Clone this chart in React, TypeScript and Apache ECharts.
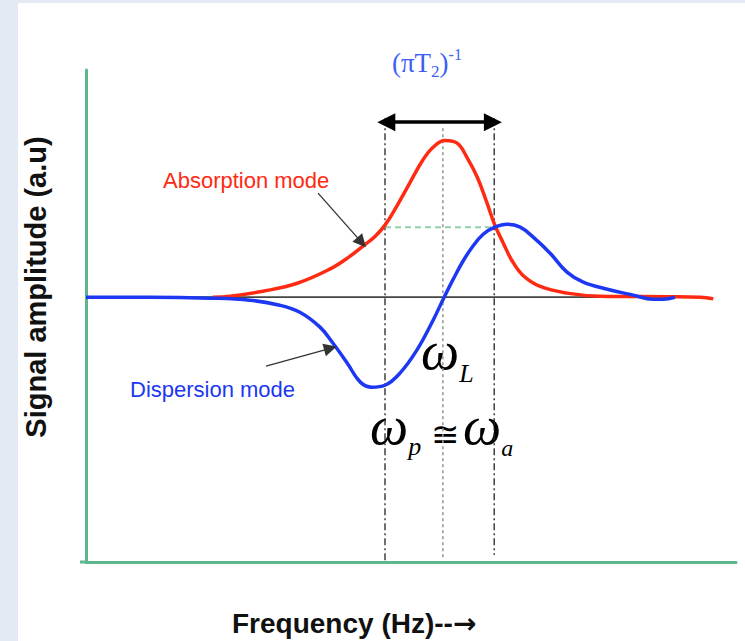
import { useEffect, useRef } from "react";
import * as echarts from "echarts";

// Frequency axis in arbitrary units (0..100), amplitude normalised to absorption peak = 1
const absorptionFreq = [19.5, 22.2, 27.2, 32.5, 37.5, 40.2, 43.2, 44.5, 46.0, 47.8, 49.8, 51.8, 53.4, 55.2, 57.1, 58.6, 60.2, 61.7, 62.9, 64.2, 65.5, 67.2, 69.8, 74.0, 79.1, 89.4, 94.5, 96.5];
const absorptionAmp = [0, 0.006, 0.038, 0.089, 0.179, 0.249, 0.345, 0.389, 0.460, 0.580, 0.728, 0.874, 0.957, 1.0, 0.983, 0.893, 0.766, 0.6, 0.460, 0.345, 0.236, 0.140, 0.070, 0.026, 0.006, 0.003, 0, -0.01];

const dispersionFreq = [0, 9.8, 19.1, 25.2, 29.8, 32.9, 36.0, 38.0, 40.2, 42.2, 44.0, 46.0, 48.3, 50.9, 53.4, 55.1, 56.5, 57.9, 59.4, 61.1, 62.9, 64.8, 66.8, 68.8, 71.4, 74.0, 76.5, 80.2, 84.2, 87.2, 88.8, 90.6];
const dispersionAmp = [0, 0, -0.006, -0.019, -0.051, -0.096, -0.191, -0.294, -0.421, -0.542, -0.574, -0.562, -0.485, -0.338, -0.147, 0, 0.115, 0.223, 0.319, 0.402, 0.447, 0.466, 0.447, 0.383, 0.281, 0.16, 0.096, 0.051, 0.013, -0.013, -0.013, 0];

const markerNames = ["omega_p", "omega_L", "omega_a"];
const markerFreq = [46.0, 54.9, 62.8];
const markerTop = [1.142, 1.078, 1.142];
const markerBottom = [-1.69, -1.666, -1.646];
const halfMaxAmp = 0.447;
const widthArrowAmp = 1.117;
const baselineEnd = 94;

const absorptionLabel = "Absorption mode";
const dispersionLabel = "Dispersion mode";
const xTitleText = "Frequency (Hz)--";
const xTitleArrow = "\u2192";
const yTitle = "Signal amplitude (a.u)";

const GREEN = "#5cb88c";
const RED = "#ff2a12";
const BLUE = "#1c38f2";
const WIDTH_BLUE = "#3d5ef5";

const SERIF = '"Liberation Serif", "DejaVu Serif", serif';

function pairs(xs: number[], ys: number[]) {
  return xs.map((x, i) => [x, ys[i]]);
}

export default function App() {
  const ref = useRef<HTMLDivElement>(null);

  useEffect(() => {
    if (!ref.current) return;
    const chart = echarts.init(ref.current, null, { renderer: "svg" });

    const verticalSeries = markerFreq.map((f, i) => ({
      type: "line",
      name: markerNames[i],
      data: [
        [f, markerTop[i]],
        [f, markerBottom[i]],
      ],
      symbol: "none",
      silent: true,
      z: 2,
      lineStyle:
        i === 1
          ? { color: "#9a9a9a", width: 1.6, type: [3, 3] }
          : { color: "#222", width: 1.3, type: [7, 3, 2, 3] },
    }));

    const omegaStyle = { fontFamily: SERIF, fontStyle: "italic", fontSize: 54, fill: "#000", verticalAlign: "middle" };

    const option: any = {
      animation: false,
      backgroundColor: "#ffffff",
      grid: { left: 86, top: 70, width: 650, height: 492, containLabel: false },
      xAxis: {
        type: "value",
        min: 0,
        max: 100,
        axisLine: { show: true, onZero: false, lineStyle: { color: GREEN, width: 3 } },
        axisTick: { show: false },
        axisLabel: { show: false },
        splitLine: { show: false },
      },
      yAxis: {
        type: "value",
        min: -1.69,
        max: 1.45,
        axisLine: { show: true, onZero: false, lineStyle: { color: GREEN, width: 3 } },
        axisTick: { show: false },
        axisLabel: { show: false },
        splitLine: { show: false },
      },
      series: [
        {
          type: "line",
          name: "baseline",
          data: [
            [0, 0],
            [baselineEnd, 0],
          ],
          symbol: "none",
          silent: true,
          z: 1,
          lineStyle: { color: "#444", width: 1.7 },
        },
        ...verticalSeries,
        {
          type: "line",
          name: "half maximum",
          data: [
            [markerFreq[0], halfMaxAmp],
            [markerFreq[2], halfMaxAmp],
          ],
          symbol: "none",
          silent: true,
          z: 2,
          lineStyle: { color: "#8fd0aa", width: 2, type: [6, 4] },
        },
        {
          type: "line",
          name: "Absorption",
          data: pairs(absorptionFreq, absorptionAmp),
          smooth: 0.4,
          symbol: "none",
          z: 3,
          lineStyle: { color: RED, width: 3.5 },
        },
        {
          type: "line",
          name: "Dispersion",
          data: pairs(dispersionFreq, dispersionAmp),
          smooth: 0.4,
          symbol: "none",
          z: 4,
          lineStyle: { color: BLUE, width: 3.5 },
        },
        {
          type: "line",
          name: "width arrow",
          data: [],
          silent: true,
          z: 5,
          markLine: {
            silent: true,
            symbol: ["triangle", "triangle"],
            symbolSize: 18,
            label: { show: false },
            lineStyle: { color: "#000", width: 3.5, type: "solid" },
            data: [
              [
                { coord: [markerFreq[0] + 0.2, widthArrowAmp] },
                { coord: [markerFreq[2] - 0.2, widthArrowAmp] },
              ],
            ],
          },
        },
        {
          type: "line",
          name: "label arrows",
          data: [],
          silent: true,
          z: 5,
          markLine: {
            silent: true,
            symbol: ["none", "triangle"],
            symbolSize: 13,
            label: { show: false },
            lineStyle: { color: "#333", width: 1.3, type: "solid" },
            data: [
              [{ coord: [35.7, 0.664] }, { coord: [42.4, 0.35] }],
              [{ coord: [27.7, -0.44] }, { coord: [37.6, -0.326] }],
            ],
          },
        },
      ],
      graphic: [
        { type: "rect", shape: { x: 0, y: 0, width: 18, height: 641 }, style: { fill: "#e3eaf4" }, silent: true },
        { type: "rect", shape: { x: 0, y: 0, width: 745, height: 3 }, style: { fill: "#e3eaf4" }, silent: true },
        { type: "line", shape: { x1: 80, y1: 562, x2: 87, y2: 562 }, style: { stroke: GREEN, lineWidth: 3 }, silent: true },
        {
          type: "text",
          x: 163,
          y: 180,
          style: { text: absorptionLabel, fill: RED, font: '22px "Liberation Sans", Arial, sans-serif', align: "left", verticalAlign: "middle" },
        },
        {
          type: "text",
          x: 130,
          y: 389,
          style: { text: dispersionLabel, fill: BLUE, font: '22px "Liberation Sans", Arial, sans-serif', align: "left", verticalAlign: "middle" },
        },
        {
          type: "text",
          x: 232,
          y: 623,
          style: {
            text: "{t|" + xTitleText + "}{ar|" + xTitleArrow + "}",
            align: "left",
            verticalAlign: "middle",
            fill: "#111",
            rich: {
              t: { fontFamily: '"Liberation Sans", Arial, sans-serif', fontWeight: "bold", fontSize: 28, fill: "#111", verticalAlign: "middle" },
              ar: { fontFamily: '"DejaVu Sans", sans-serif', fontWeight: "bold", fontSize: 28, fill: "#111", verticalAlign: "middle" },
            },
          },
        },
        {
          type: "text",
          x: 36,
          y: 287,
          rotation: Math.PI / 2,
          style: { text: yTitle, fill: "#111", font: 'bold 29px "Liberation Sans", Arial, sans-serif', align: "center", verticalAlign: "middle" },
        },
        {
          type: "text",
          x: 392,
          y: 46,
          style: {
            text: "{m|(\u03C0T}{sub|2}{m|)}{sup|-1}",
            align: "left",
            verticalAlign: "top",
            fill: WIDTH_BLUE,
            rich: {
              m: { fontFamily: SERIF, fontSize: 27, lineHeight: 34, verticalAlign: "middle", fill: WIDTH_BLUE },
              sub: { fontFamily: SERIF, fontSize: 17, lineHeight: 17, verticalAlign: "bottom", fill: WIDTH_BLUE },
              sup: { fontFamily: SERIF, fontSize: 16, lineHeight: 16, verticalAlign: "top", fill: WIDTH_BLUE },
            },
          },
        },
        {
          type: "text",
          x: 421,
          y: 314.4,
          style: {
            text: "{w|\u03C9}{s|L}",
            align: "left",
            verticalAlign: "top",
            fill: "#000",
            rich: {
              w: { ...omegaStyle, lineHeight: 72.6 },
              s: { fontFamily: SERIF, fontStyle: "italic", fontSize: 26, lineHeight: 26, verticalAlign: "bottom", fill: "#000" },
            },
          },
        },
        {
          type: "text",
          x: 370,
          y: 391.4,
          style: {
            text: "{w|\u03C9}{s|p}",
            align: "left",
            verticalAlign: "top",
            fill: "#000",
            rich: {
              w: { ...omegaStyle, lineHeight: 68.6 },
              s: { fontFamily: SERIF, fontStyle: "italic", fontSize: 26, lineHeight: 26, verticalAlign: "bottom", fill: "#000" },
            },
          },
        },
        {
          type: "text",
          x: 445,
          y: 434,
          style: { text: "\u2245", fill: "#000", font: '34px "DejaVu Serif", serif', align: "center", verticalAlign: "middle" },
        },
        {
          type: "text",
          x: 463,
          y: 391.4,
          style: {
            text: "{w|\u03C9}{a|a}",
            align: "left",
            verticalAlign: "top",
            fill: "#000",
            rich: {
              w: { ...omegaStyle, lineHeight: 68.6 },
              a: { fontFamily: SERIF, fontStyle: "italic", fontSize: 24, lineHeight: 24, verticalAlign: "bottom", fill: "#000" },
            },
          },
        },
      ],
    };

    chart.setOption(option);
    return () => chart.dispose();
  }, []);

  return (
    <div
      ref={ref}
      style={{ position: "fixed", left: 0, top: 0, width: 745, height: 641, background: "#fff" }}
    />
  );
}
